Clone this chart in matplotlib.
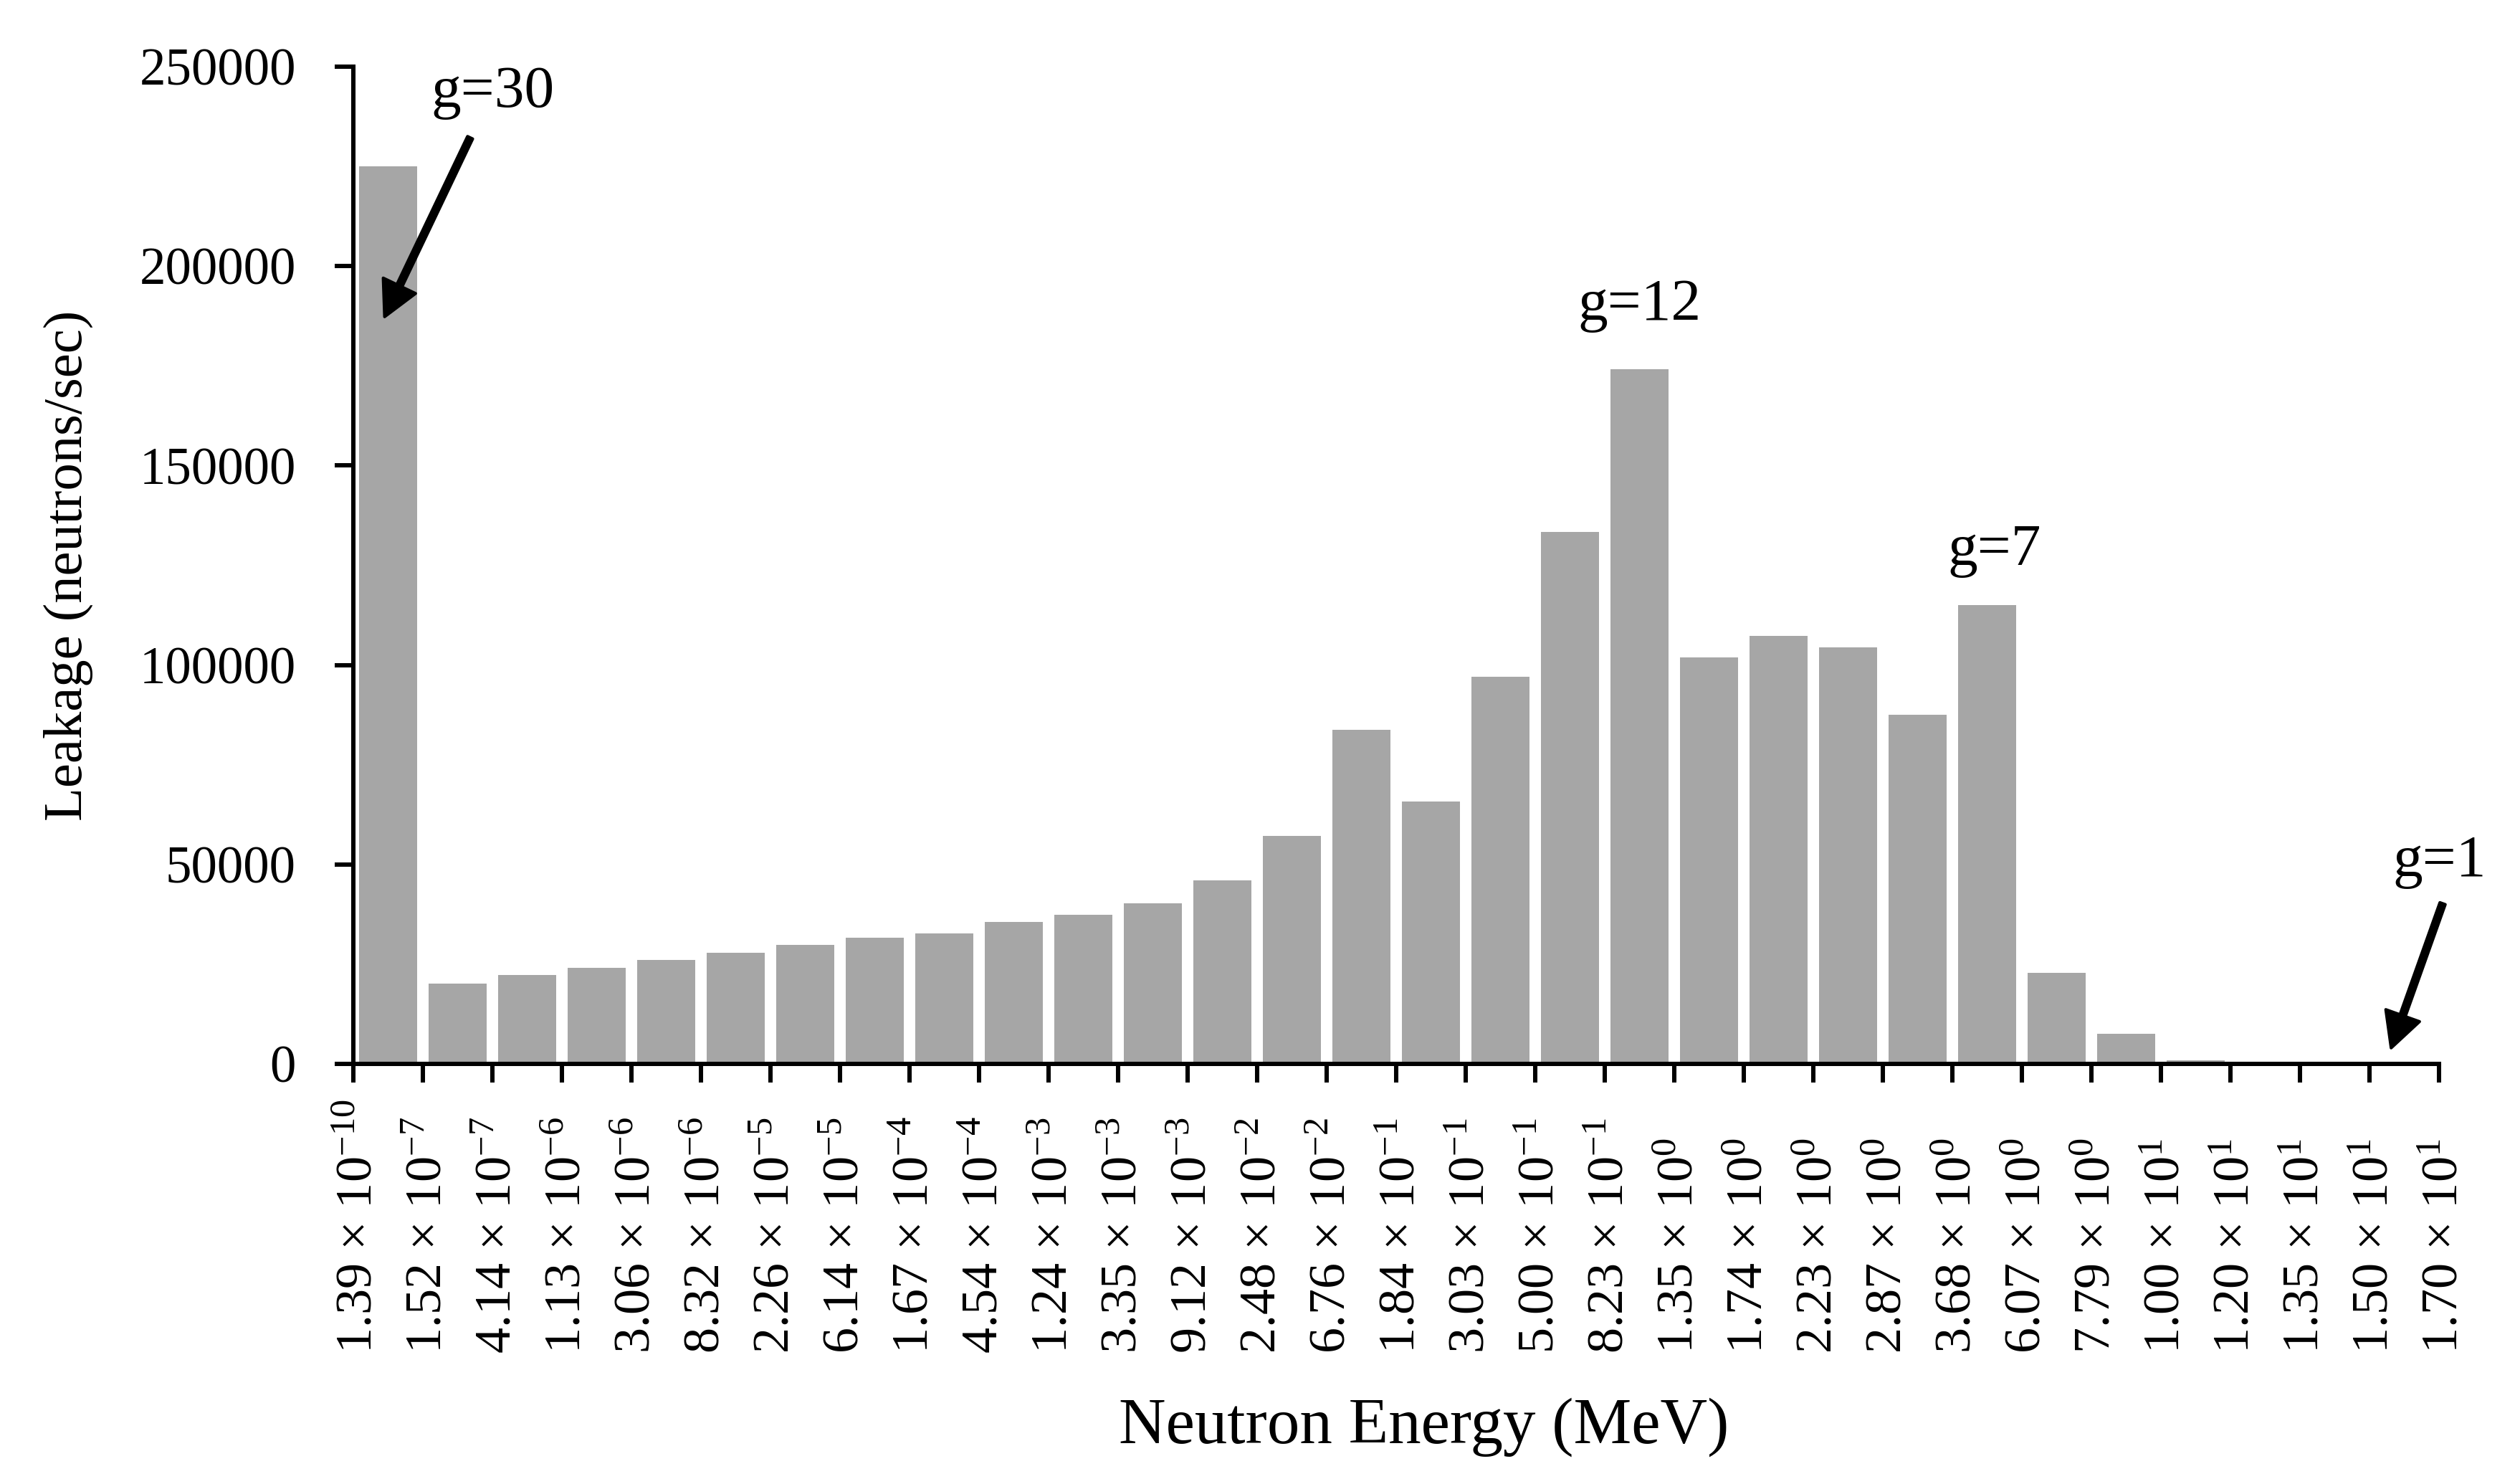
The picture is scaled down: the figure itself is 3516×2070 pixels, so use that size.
import matplotlib
matplotlib.use("Agg")
import matplotlib.pyplot as plt
from matplotlib.transforms import blended_transform_factory

plt.rcParams['font.family'] = ['Liberation Serif', 'DejaVu Serif']
plt.rcParams['mathtext.fontset'] = 'custom'
plt.rcParams['mathtext.rm'] = 'Liberation Serif'
plt.rcParams['mathtext.it'] = 'Liberation Serif:italic'
plt.rcParams['mathtext.bf'] = 'Liberation Serif:bold'

# ---- data -------------------------------------------------------------
energy_mantissa = ["1.39", "1.52", "4.14", "1.13", "3.06", "8.32", "2.26", "6.14",
                   "1.67", "4.54", "1.24", "3.35", "9.12", "2.48", "6.76", "1.84",
                   "3.03", "5.00", "8.23", "1.35", "1.74", "2.23", "2.87", "3.68",
                   "6.07", "7.79", "1.00", "1.20", "1.35", "1.50", "1.70"]
energy_exponent = [-10, -7, -7, -6, -6, -6, -5, -5, -4, -4, -3, -3, -3, -2, -2, -1,
                   -1, -1, -1, 0, 0, 0, 0, 0, 0, 0, 1, 1, 1, 1, 1]

leakage = [225000, 20200, 22200, 24000, 26000, 27800, 29800, 31600, 32700, 35600,
           37400, 40200, 46000, 57200, 83800, 65800, 97000, 133300, 174200, 101900,
           107300, 104400, 87500, 115000, 22900, 7600, 900, 0, 0, 0]

y_ticks = [0, 50000, 100000, 150000, 200000, 250000]

group_labels = ["g=30", "g=12", "g=7", "g=1"]

# ---- figure -----------------------------------------------------------
fig = plt.figure(figsize=(11.72, 6.9), dpi=300)
ax = fig.add_axes([0.1402, 0.2831, 0.8277, 0.6720])

n = len(leakage)
centers = [i + 0.5 for i in range(n)]
ax.bar(centers, leakage, width=0.83, color='#A6A6A6', zorder=2)

ax.set_xlim(0, n)
ax.set_ylim(0, 250000)

for s in ('top', 'right'):
    ax.spines[s].set_visible(False)
for s in ('left', 'bottom'):
    ax.spines[s].set_linewidth(1.45)
    ax.spines[s].set_color('black')
    ax.spines[s].set_zorder(3)

ax.set_xticks(range(len(energy_mantissa)))
ax.set_xticklabels([])
ax.set_yticks(y_ticks)
ax.set_yticklabels([str(v) for v in y_ticks])
ax.tick_params(axis='both', direction='out', length=6.2, width=1.45, color='black')
ax.tick_params(axis='y', labelsize=17.5, pad=13)

trans = blended_transform_factory(ax.transData, ax.transAxes)
for i, (m, e) in enumerate(zip(energy_mantissa, energy_exponent)):
    label = f"{m} \u00d7 10" + rf"$^{{\mathregular{{{e}}}}}$"
    ax.text(i + 0.08, -0.2904, label,
            transform=trans, rotation=90, ha='center', va='bottom',
            fontsize=17.3, clip_on=False)

fig.text(95 / 3516, 1 - 789 / 2070, "Leakage (neutrons/sec)", rotation=90,
         ha='center', va='center', fontsize=18.4)
fig.text(1987 / 3516, 1 - 2013 / 2070, "Neutron Energy (MeV)",
         ha='center', va='baseline', fontsize=21.8)

arrow_kw = dict(width=1.9, headwidth=12, headlength=11.5, facecolor='black',
                edgecolor='black', shrink=0)

# g=30
ax.text(2.0, 239900, group_labels[0], ha='center', va='baseline', fontsize=20)
ax.annotate('', xy=(0.45, 187300), xytext=(1.68, 232200), arrowprops=arrow_kw,
            annotation_clip=False)
# g=12
ax.text(18.5, 186600, group_labels[1], ha='center', va='baseline', fontsize=20)
# g=7
ax.text(23.6, 125000, group_labels[2], ha='center', va='baseline', fontsize=20)
# g=1
ax.text(30.0, 47000, group_labels[3], ha='center', va='baseline', fontsize=20,
        clip_on=False)
ax.annotate('', xy=(29.31, 4000), xytext=(30.05, 40200), arrowprops=arrow_kw,
            annotation_clip=False)

fig.savefig("out.png", dpi=300)
